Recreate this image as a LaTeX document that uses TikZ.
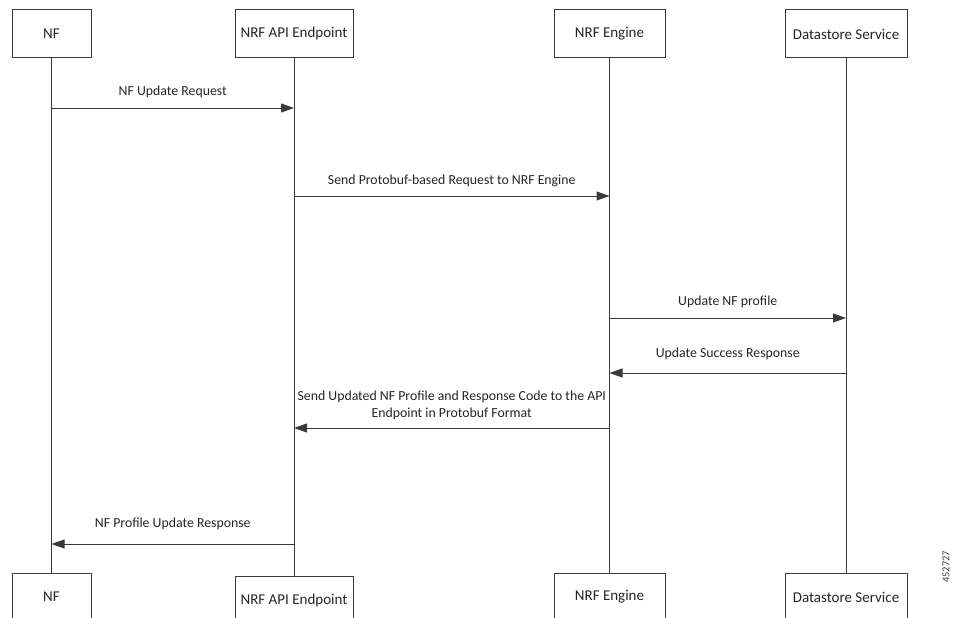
\documentclass[tikz,border=0pt]{standalone}
\usepackage{fontspec}
\setmainfont{Carlito}
\usetikzlibrary{arrows.meta}
\definecolor{ink}{HTML}{3A3A3A}
\tikzset{
  actor/.style={draw=ink, line width=1pt, fill=white, minimum height=48pt,
    inner sep=0pt, font=\fontsize{15}{17}\selectfont, text=black!85},
  lifeline/.style={draw=ink, line width=1pt},
  msg/.style={draw=ink, line width=1pt, -{Triangle[length=13pt,width=9pt]}},
  msglabel/.style={font=\fontsize{13.8}{16.5}\selectfont, text=black!85, align=center, inner sep=0pt}
}
\begin{document}
\begin{tikzpicture}[x=1pt,y=-1pt]
\useasboundingbox[fill=white] (0,0) rectangle (959,618);

% participants, top row
\node[actor, minimum width=79pt]  (nfT)  at (51.5,34) {NF};
\node[actor, minimum width=118pt] (apiT) at (294,34)  {NRF API Endpoint};
\node[actor, minimum width=111pt] (engT) at (609.5,34) {NRF Engine};
\node[actor, minimum width=122pt] (dsT)  at (846,34)  {Datastore Service};

% participants, bottom row
\node[actor, minimum width=79pt]  (nfB)  at (51.5,597) {NF};
\node[actor, minimum width=118pt] (apiB) at (294,600)  {NRF API Endpoint};
\node[actor, minimum width=111pt] (engB) at (609.5,597) {NRF Engine};
\node[actor, minimum width=122pt] (dsB)  at (846,597)  {Datastore Service};

% lifelines
\draw[lifeline] (nfT.south)  -- (nfB.north);
\draw[lifeline] (apiT.south) -- (apiB.north);
\draw[lifeline] (engT.south) -- (engB.north);
\draw[lifeline] (dsT.south)  -- (dsB.north);

% message heights
\coordinate (y1) at (0,108);
\coordinate (y2) at (0,196);
\coordinate (y3) at (0,318);
\coordinate (y4) at (0,373);
\coordinate (y5) at (0,428);
\coordinate (y6) at (0,544);

% messages
\draw[msg] (nfT |- y1) -- (apiT |- y1)
  node[msglabel, midway, above=10pt] {NF Update Request};
\draw[msg] (apiT |- y2) -- (engT |- y2)
  node[msglabel, midway, above=9pt] {Send Protobuf-based Request to NRF Engine};
\draw[msg] (engT |- y3) -- (dsT |- y3)
  node[msglabel, midway, above=10pt] {Update NF profile};
\draw[msg] (dsT |- y4) -- (engT |- y4)
  node[msglabel, midway, above=13pt] {Update Success Response};
\draw[msg] (engT |- y5) -- (apiT |- y5)
  node[msglabel, midway, above=8pt] {Send Updated NF Profile and Response Code to the API\\Endpoint in Protobuf Format};
\draw[msg] (apiT |- y6) -- (nfT |- y6)
  node[msglabel, midway, above=14pt] {NF Profile Update Response};

% figure number
\node[rotate=90, font=\fontsize{10.5}{12}\selectfont, text=black!75, inner sep=0pt] (fignum) at (946,567) {452727};
\end{tikzpicture}
\end{document}
